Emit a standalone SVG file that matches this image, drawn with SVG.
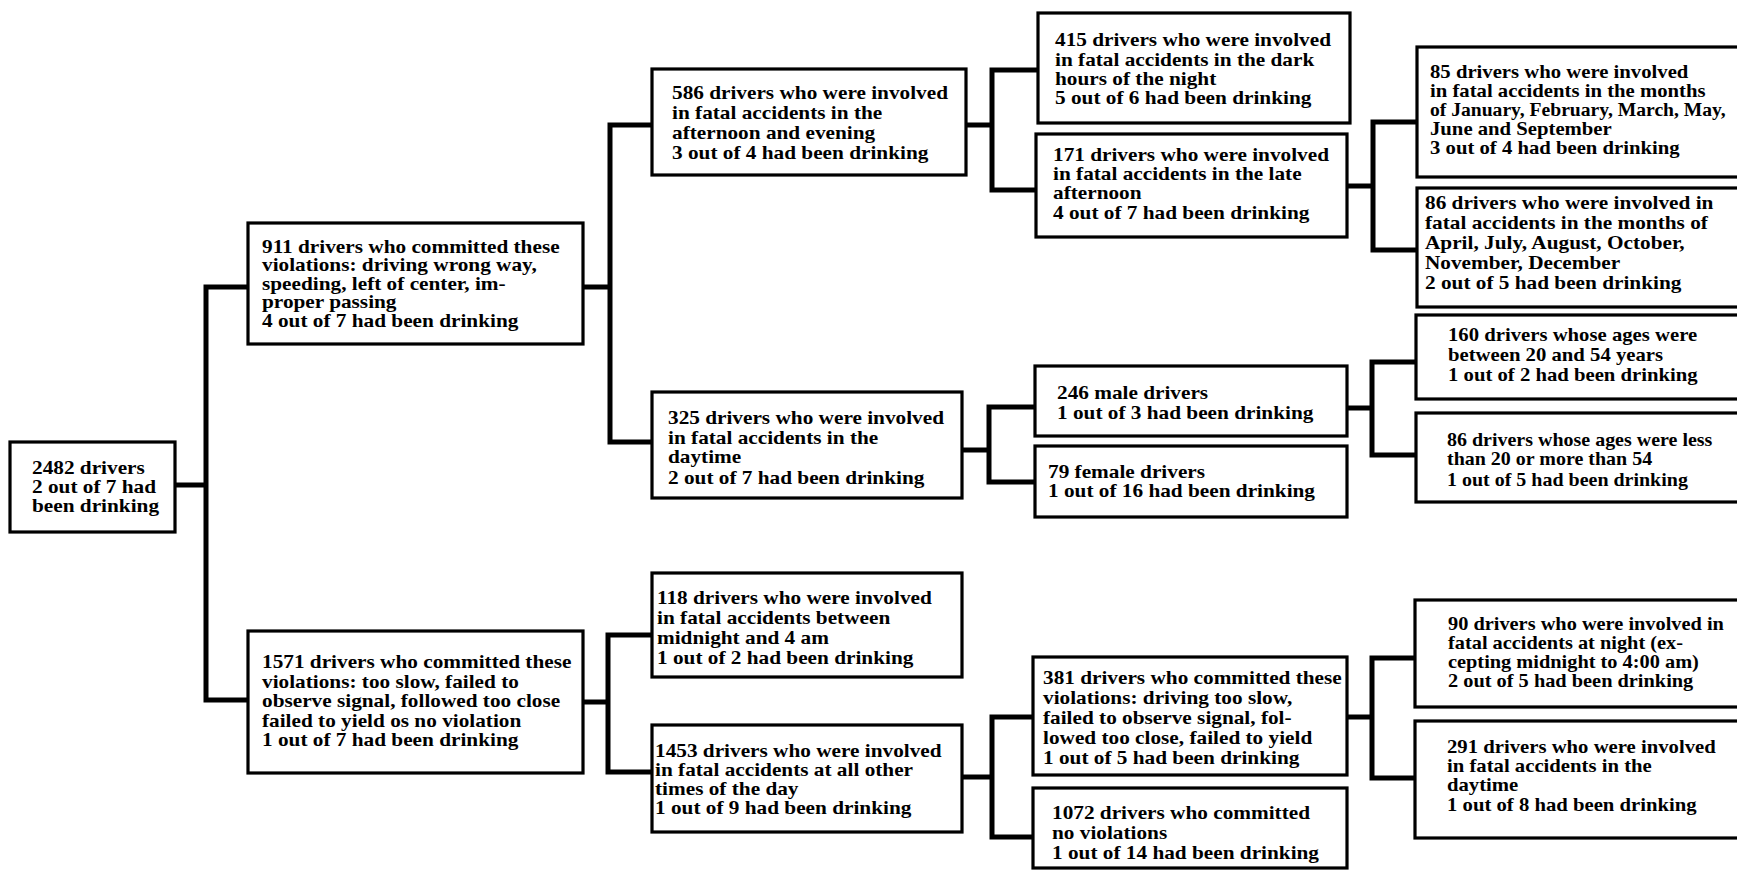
<svg xmlns="http://www.w3.org/2000/svg" width="1737" height="874" viewBox="0 0 1737 874">
<style>
  .box { fill: #ffffff; stroke: #000000; stroke-width: 3.2; }
  .t { font-family: "Liberation Serif", "Times New Roman", serif; font-weight: bold; font-size: 18.5px; fill: #000000; }
  .c { fill: none; stroke: #000000; stroke-width: 5; stroke-linejoin: miter; stroke-linecap: square; }
</style>
<rect x="0" y="0" width="1737" height="874" fill="#ffffff"/>

<g id="connectors">
  <path class="c" d="M175,485 H206 M206,287 V700 M206,287 H248 M206,700 H248"/>
  <path class="c" d="M583,287 H610 M610,125 V442 M610,125 H652 M610,442 H652"/>
  <path class="c" d="M583,702 H608 M608,635 V772 M608,635 H652 M608,772 H652"/>
  <path class="c" d="M966,125 H992 M992,70 V190 M992,70 H1038 M992,190 H1036"/>
  <path class="c" d="M962,450 H989 M989,407 V482 M989,407 H1035 M989,482 H1035"/>
  <path class="c" d="M962,777 H992 M992,717 V837 M992,717 H1033 M992,837 H1033"/>
  <path class="c" d="M1347,186 H1373 M1373,122 V250 M1373,122 H1417 M1373,250 H1417"/>
  <path class="c" d="M1347,408 H1372 M1372,362 V455 M1372,362 H1416 M1372,455 H1416"/>
  <path class="c" d="M1347,717 H1372 M1372,658 V778 M1372,658 H1415 M1372,778 H1415"/>
</g>

<g id="n2482">
  <rect class="box" x="10" y="442" width="165" height="90"/>
  <text class="t" transform="translate(32 0) scale(1.15 1)"><tspan x="0" y="474">2482 drivers</tspan><tspan x="0" y="493">2 out of 7 had</tspan><tspan x="0" y="512">been drinking</tspan></text>
</g>

<g id="n911">
  <rect class="box" x="248" y="223" width="335" height="121"/>
  <text class="t" transform="translate(262 0) scale(1.15 1)"><tspan x="0" y="253">911 drivers who committed these</tspan><tspan x="0" y="271.5">violations: driving wrong way,</tspan><tspan x="0" y="290">speeding, left of center, im-</tspan><tspan x="0" y="308.5">proper passing</tspan><tspan x="0" y="327">4 out of 7 had been drinking</tspan></text>
</g>

<g id="n1571">
  <rect class="box" x="248" y="631" width="335" height="142"/>
  <text class="t" transform="translate(262 0) scale(1.15 1)"><tspan x="0" y="668">1571 drivers who committed these</tspan><tspan x="0" y="688">violations: too slow, failed to</tspan><tspan x="0" y="707">observe signal, followed too close</tspan><tspan x="0" y="727">failed to yield os no violation</tspan><tspan x="0" y="746">1 out of 7 had been drinking</tspan></text>
</g>

<g id="n586">
  <rect class="box" x="652" y="69" width="314" height="106"/>
  <text class="t" transform="translate(672 0) scale(1.15 1)"><tspan x="0" y="99">586 drivers who were involved</tspan><tspan x="0" y="119">in fatal accidents in the</tspan><tspan x="0" y="139">afternoon and evening</tspan><tspan x="0" y="159">3 out of 4 had been drinking</tspan></text>
</g>

<g id="n325">
  <rect class="box" x="652" y="392" width="310" height="106"/>
  <text class="t" transform="translate(668 0) scale(1.15 1)"><tspan x="0" y="424">325 drivers who were involved</tspan><tspan x="0" y="444">in fatal accidents in the</tspan><tspan x="0" y="463">daytime</tspan><tspan x="0" y="484">2 out of 7 had been drinking</tspan></text>
</g>

<g id="n118">
  <rect class="box" x="652" y="573" width="310" height="104"/>
  <text class="t" transform="translate(657 0) scale(1.15 1)"><tspan x="0" y="604">118 drivers who were involved</tspan><tspan x="0" y="624">in fatal accidents between</tspan><tspan x="0" y="644">midnight and 4 am</tspan><tspan x="0" y="664">1 out of 2 had been drinking</tspan></text>
</g>

<g id="n1453">
  <rect class="box" x="652" y="725" width="310" height="107"/>
  <text class="t" transform="translate(655 0) scale(1.15 1)"><tspan x="0" y="757">1453 drivers who were involved</tspan><tspan x="0" y="776">in fatal accidents at all other</tspan><tspan x="0" y="795">times of the day</tspan><tspan x="0" y="814">1 out of 9 had been drinking</tspan></text>
</g>

<g id="n415">
  <rect class="box" x="1038" y="13" width="312" height="110"/>
  <text class="t" transform="translate(1055 0) scale(1.15 1)"><tspan x="0" y="46">415 drivers who were involved</tspan><tspan x="0" y="66">in fatal accidents in the dark</tspan><tspan x="0" y="85">hours of the night</tspan><tspan x="0" y="104">5 out of 6 had been drinking</tspan></text>
</g>

<g id="n171">
  <rect class="box" x="1036" y="134" width="311" height="103"/>
  <text class="t" transform="translate(1053 0) scale(1.15 1)"><tspan x="0" y="161">171 drivers who were involved</tspan><tspan x="0" y="180">in fatal accidents in the late</tspan><tspan x="0" y="199">afternoon</tspan><tspan x="0" y="219">4 out of 7 had been drinking</tspan></text>
</g>

<g id="n246">
  <rect class="box" x="1035" y="366" width="312" height="70"/>
  <text class="t" transform="translate(1057 0) scale(1.15 1)"><tspan x="0" y="399">246 male drivers</tspan><tspan x="0" y="419">1 out of 3 had been drinking</tspan></text>
</g>

<g id="n79">
  <rect class="box" x="1035" y="446" width="312" height="71"/>
  <text class="t" transform="translate(1048 0) scale(1.15 1)"><tspan x="0" y="478">79 female drivers</tspan><tspan x="0" y="497">1 out of 16 had been drinking</tspan></text>
</g>

<g id="n381">
  <rect class="box" x="1033" y="657" width="314" height="118"/>
  <text class="t" transform="translate(1043 0) scale(1.15 1)"><tspan x="0" y="684">381 drivers who committed these</tspan><tspan x="0" y="704">violations: driving too slow,</tspan><tspan x="0" y="724">failed to observe signal, fol-</tspan><tspan x="0" y="744">lowed too close, failed to yield</tspan><tspan x="0" y="764">1 out of 5 had been drinking</tspan></text>
</g>

<g id="n1072">
  <rect class="box" x="1033" y="788" width="314" height="80"/>
  <text class="t" transform="translate(1052 0) scale(1.15 1)"><tspan x="0" y="819">1072 drivers who committed</tspan><tspan x="0" y="839">no violations</tspan><tspan x="0" y="859">1 out of 14 had been drinking</tspan></text>
</g>

<g id="n85">
  <rect class="box" x="1417" y="47" width="340" height="130"/>
  <text class="t" transform="translate(1430 0) scale(1.12 1)"><tspan x="0" y="78">85 drivers who were involved</tspan><tspan x="0" y="97">in fatal accidents in the months</tspan></text>
  <text class="t" transform="translate(1430 0) scale(1.06 1)"><tspan x="0" y="116">of January, February, March, May,</tspan></text>
  <text class="t" transform="translate(1430 0) scale(1.12 1)"><tspan x="0" y="135">June and September</tspan><tspan x="0" y="154">3 out of 4 had been drinking</tspan></text>
</g>

<g id="n86m">
  <rect class="box" x="1417" y="188" width="340" height="119"/>
  <text class="t" transform="translate(1425 0) scale(1.15 1)"><tspan x="0" y="209">86 drivers who were involved in</tspan><tspan x="0" y="229">fatal accidents in the months of</tspan><tspan x="0" y="249">April, July, August, October,</tspan><tspan x="0" y="269">November, December</tspan><tspan x="0" y="289">2 out of 5 had been drinking</tspan></text>
</g>

<g id="n160">
  <rect class="box" x="1416" y="315" width="340" height="84"/>
  <text class="t" transform="translate(1448 0) scale(1.12 1)"><tspan x="0" y="341">160 drivers whose ages were</tspan><tspan x="0" y="361">between 20 and 54 years</tspan><tspan x="0" y="381">1 out of 2 had been drinking</tspan></text>
</g>

<g id="n86a">
  <rect class="box" x="1416" y="413" width="340" height="89"/>
  <text class="t" transform="translate(1447 0) scale(1.08 1)"><tspan x="0" y="446">86 drivers whose ages were less</tspan><tspan x="0" y="465">than 20 or more than 54</tspan><tspan x="0" y="486">1 out of 5 had been drinking</tspan></text>
</g>

<g id="n90">
  <rect class="box" x="1415" y="600" width="340" height="107"/>
  <text class="t" transform="translate(1448 0) scale(1.1 1)"><tspan x="0" y="630">90 drivers who were involved in</tspan><tspan x="0" y="649">fatal accidents at night (ex-</tspan><tspan x="0" y="668">cepting midnight to 4:00 am)</tspan><tspan x="0" y="687">2 out of 5 had been drinking</tspan></text>
</g>

<g id="n291">
  <rect class="box" x="1415" y="721" width="340" height="117"/>
  <text class="t" transform="translate(1447 0) scale(1.12 1)"><tspan x="0" y="753">291 drivers who were involved</tspan><tspan x="0" y="772">in fatal accidents in the</tspan><tspan x="0" y="791">daytime</tspan><tspan x="0" y="811">1 out of 8 had been drinking</tspan></text>
</g>
</svg>
